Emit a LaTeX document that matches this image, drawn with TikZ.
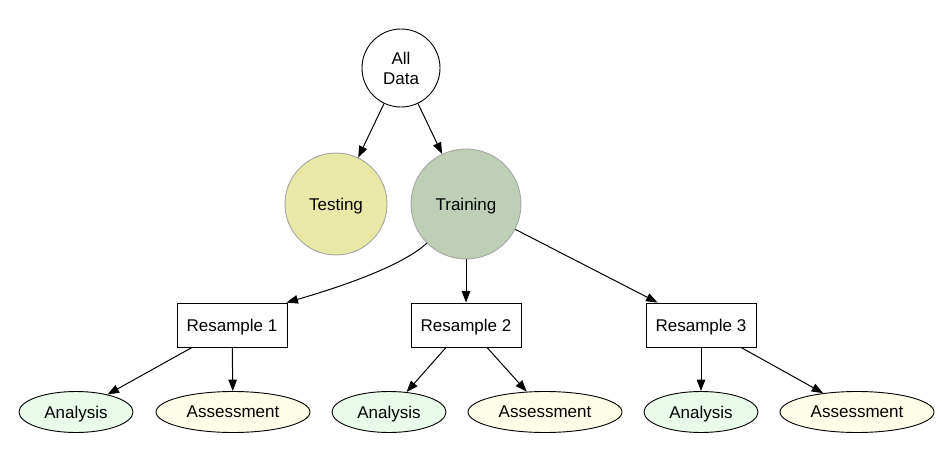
\documentclass[tikz,border=0pt]{standalone}
\usepackage{fontspec}
\setmainfont{Liberation Sans}
\usetikzlibrary{shapes.geometric,arrows.meta}
\definecolor{testfill}{RGB}{232,233,166}
\definecolor{trainfill}{RGB}{189,207,181}
\definecolor{graybd}{RGB}{165,165,165}
\definecolor{anfill}{RGB}{233,251,233}
\definecolor{asfill}{RGB}{254,254,232}
\begin{document}
\begin{tikzpicture}[x=1pt,y=-1pt,
  every node/.style={font=\fontsize{17}{20}\selectfont, inner sep=0pt},
  circ/.style={circle, draw, line width=0.9pt},
  flat/.style={text depth=0pt},
  rbox/.style={rectangle, flat, draw=black, line width=0.9pt, fill=white, minimum width=110pt, minimum height=44pt},
  ell/.style={ellipse, flat, draw=black, line width=0.9pt, minimum height=41pt},
  edge/.style={draw=black, line width=1pt, -{Triangle[length=11.5pt,width=8.5pt]}}
]
\useasboundingbox (0,0) rectangle (952,460);
\node[circ, draw=black, fill=white, minimum size=78pt, align=center] (ad) at (401,68) {All\\Data};
\node[circ, flat, draw=graybd, fill=testfill, minimum size=102pt] (te) at (336,204) {Testing};
\node[circ, flat, draw=graybd, fill=trainfill, minimum size=110pt] (tr) at (466,204) {Training};
\node[rbox] (r1) at (232,325) {Resample 1};
\node[rbox] (r2) at (466,325) {Resample 2};
\node[rbox] (r3) at (701,325) {Resample 3};
\node[ell, fill=anfill, minimum width=114pt] (a1) at (76,412) {Analysis};
\node[ell, fill=asfill, minimum width=154pt] (s1) at (233,412) {Assessment};
\node[ell, fill=anfill, minimum width=114pt] (a2) at (389,412) {Analysis};
\node[ell, fill=asfill, minimum width=154pt] (s2) at (545,412) {Assessment};
\node[ell, fill=anfill, minimum width=114pt] (a3) at (701,412) {Analysis};
\node[ell, fill=asfill, minimum width=154pt] (s3) at (857,412) {Assessment};
\draw[edge] (ad) -- (te);
\draw[edge] (ad) -- (tr);
\draw[edge] (tr.225) .. controls (400,268) and (330,290) .. ([xshift=-1pt]r1.north east);
\draw[edge] (tr) -- (r2);
\draw[edge] (tr) -- ([xshift=12pt]r3.north west);
\draw[edge] ([xshift=-40pt]r1.south) -- (a1);
\draw[edge] (r1) -- (s1);
\draw[edge] ([xshift=-20pt]r2.south) -- (a2);
\draw[edge] ([xshift=21pt]r2.south) -- (s2);
\draw[edge] (r3) -- (a3);
\draw[edge] ([xshift=40pt]r3.south) -- (s3);
\end{tikzpicture}
\end{document}
